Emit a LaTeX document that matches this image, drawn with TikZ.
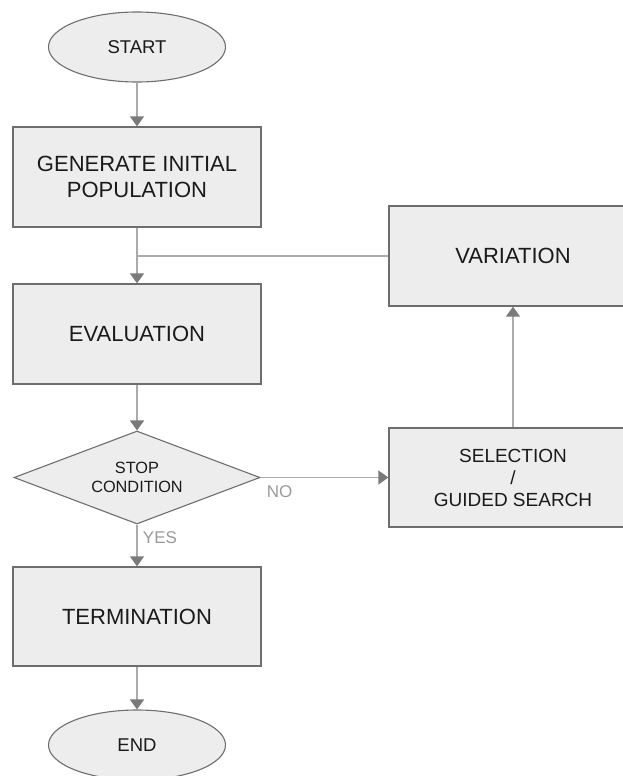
\documentclass[tikz,border=0pt]{standalone}
\usepackage{fontspec}
\setmainfont{Liberation Sans}
\usetikzlibrary{shapes.geometric,arrows.meta}
\definecolor{boxfill}{HTML}{EDEDED}
\definecolor{boxline}{HTML}{6E6E6E}
\definecolor{conline}{HTML}{ABABAB}
\definecolor{tipgray}{HTML}{7A7A7A}
\definecolor{txt}{HTML}{1A1A1A}
\definecolor{lbl}{HTML}{9A9A9A}
\tikzset{
  procbox/.style={draw=boxline, fill=boxfill, line width=1.3pt, rectangle,
    minimum width=248pt, minimum height=100pt, inner sep=0pt, align=center,
    text=txt, font=\fontsize{22}{26}\selectfont},
  termnode/.style={draw=boxline, fill=boxfill, line width=1.1pt, ellipse,
    minimum width=177pt, minimum height=70pt, inner sep=0pt, text=txt,
    font=\fontsize{18.5}{22}\selectfont},
  decnode/.style={draw=boxline, fill=boxfill, line width=1.1pt, diamond,
    shape aspect=2.65, minimum width=246pt, minimum height=93pt, inner sep=0pt,
    align=center, text=txt, font=\fontsize{16.3}{19}\selectfont},
  conn/.style={draw=conline, line width=1.5pt},
  arr/.style={conn, -{Triangle[width=14pt,length=10pt,color=tipgray]}},
  edgelbl/.style={text=lbl, font=\fontsize{17}{20}\selectfont, inner sep=0pt}
}
\begin{document}
\begin{tikzpicture}[x=1pt,y=-1pt]
\useasboundingbox (0,0) rectangle (623,776);
\node[termnode] (start) at (137,47) {START};
\node[procbox] (gen) at (137,177) {GENERATE INITIAL\\POPULATION};
\node[procbox] (eval) at (137,334) {EVALUATION};
\node[decnode] (cond) at (137,477.5) {STOP\\CONDITION};
\node[procbox, minimum height=99pt] (term) at (137,616.5) {TERMINATION};
\node[termnode] (end) at (137,745) {END};
\node[procbox] (var) at (513,256) {VARIATION};
\node[procbox, minimum height=99pt, font=\fontsize{19}{22}\selectfont] (sel) at (513,477.5) {SELECTION\\/\\GUIDED SEARCH};
\coordinate (join) at (var.west -| gen.south);
\draw[arr] (start.south) -- (gen.north);
\draw[arr] (gen.south) -- (eval.north);
\draw[conn] (var.west) -- (join);
\draw[arr] (eval.south) -- (cond.north);
\draw[arr] (cond.east) -- (sel.west);
\draw[arr] (sel.north) -- (var.south);
\draw[arr] (cond.south) -- (term.north);
\draw[arr] (term.south) -- (end.north);
\node[edgelbl] (nolbl) at (279.5,492) {NO};
\node[edgelbl] (yeslbl) at (160,538) {YES};
\end{tikzpicture}
\end{document}
